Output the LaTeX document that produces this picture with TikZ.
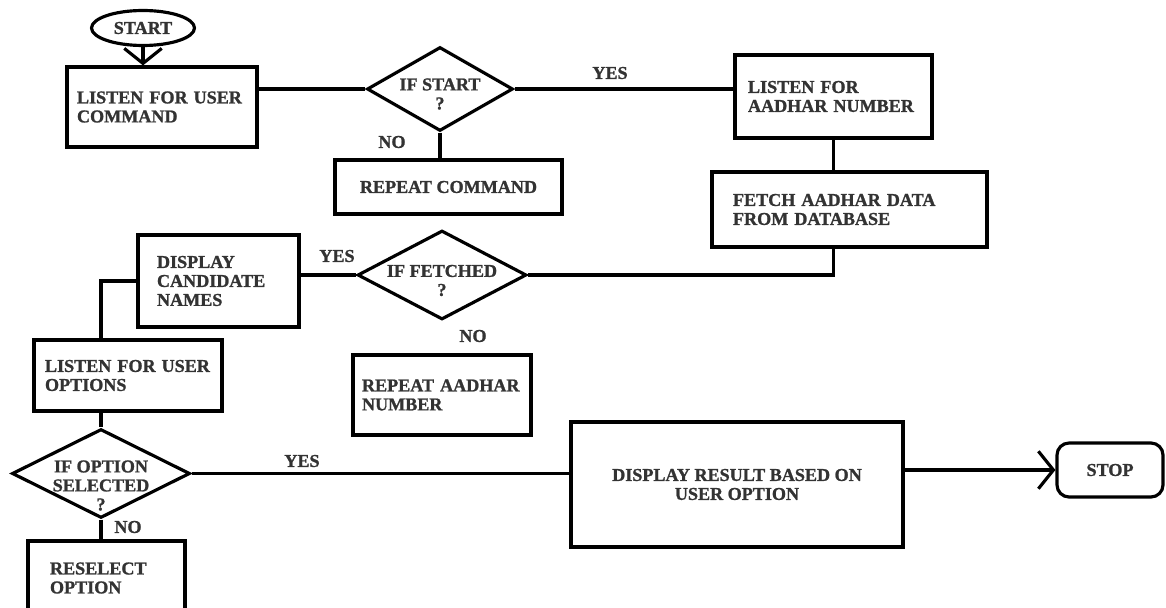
\documentclass[tikz,border=0pt]{standalone}
\usepackage{fontspec}
\setmainfont{Liberation Serif}[BoldFeatures={FakeBold=1.2}]
\usetikzlibrary{shapes.geometric, arrows.meta, positioning, calc}

\begin{document}
\begin{tikzpicture}[
  x=0.02cm, y=-0.02cm,
  every node/.style={font=\fontsize{10.3}{10.8}\selectfont\bfseries, text=black!80},
  box/.style={draw, line width=1.8pt, inner sep=0pt, align=left},
  cbox/.style={draw, line width=1.8pt, inner sep=0pt, align=center},
  decision/.style={diamond, draw, line width=1.8pt, inner sep=0pt},
  dtext/.style={align=center, inner sep=0pt},
  link/.style={line width=1.8pt},
  flow/.style={line width=1.8pt, -{Straight Barb[length=3mm, width=7.5mm]}}
]
  \useasboundingbox (0,0) rectangle (1166,608);

  \node[ellipse, draw, line width=1.8pt, minimum width=20.6mm, minimum height=7mm, inner sep=0pt] (start) at (143,28) {START};
  \node[box, minimum width=38mm, minimum height=16mm, text width=34mm] (cmd) at (162,107) {LISTEN FOR USER\\COMMAND};
  \node[decision, minimum width=29.2mm, minimum height=16.8mm,
        label={[dtext, yshift=-1mm]center:IF START\\?}] (ifstart) at (440,89) {};
  \node[cbox, minimum width=45.4mm, minimum height=10.8mm] (rptcmd) at (448.5,187) {REPEAT COMMAND};
  \node[box, minimum width=39.4mm, minimum height=16.6mm, text width=34.2mm] (aadhar) at (833.5,96.5) {LISTEN FOR\\AADHAR NUMBER};
  \node[box, minimum width=55mm, minimum height=15mm, text width=46.6mm] (fetch) at (849.5,209.5) {FETCH AADHAR DATA\\FROM DATABASE};
  \node[decision, minimum width=33.8mm, minimum height=17.8mm,
        label={[dtext, yshift=-1.1mm]center:IF FETCHED\\?}] (iffetch) at (442,275) {};
  \node[box, minimum width=32.2mm, minimum height=18.4mm, text width=24.6mm] (cand) at (218.5,281) {DISPLAY\\CANDIDATE\\NAMES};
  \node[box, minimum width=35.6mm, minimum height=16mm, text width=32mm] (rptaadhar) at (442,395) {REPEAT AADHAR\\NUMBER};
  \node[box, minimum width=37.6mm, minimum height=14.2mm, text width=33.2mm] (opts) at (128,375.5) {LISTEN FOR USER\\OPTIONS};
  \node[decision, minimum width=35.6mm, minimum height=17.8mm,
        label={[dtext, yshift=-2.4mm]center:IF OPTION\\SELECTED\\?}] (ifopt) at (101,473.5) {};
  \node[box, minimum width=31.4mm, minimum height=14.8mm, text width=22.6mm] (reselect) at (106.5,578) {RESELECT\\OPTION};
  \node[cbox, minimum width=66.4mm, minimum height=25mm] (result) at (737,484.5) {DISPLAY RESULT BASED ON\\USER OPTION};
  \node[draw, line width=1.8pt, rounded corners=2.4mm, minimum width=21.2mm, minimum height=10.8mm, inner sep=0pt] (stop) at (1110,470) {STOP};

  % branch labels
  \node (yes1) at (610,73) {YES};
  \node (no1) at (392,142) {NO};
  \node (yes2) at (337,256) {YES};
  \node (no2) at (473,336) {NO};
  \node (yes3) at (302,461) {YES};
  \node (no3) at (128,527) {NO};

  \draw[flow] (start.south) -- (start.south |- cmd.north);
  \draw[link] (ifstart.west) -- (ifstart.west -| cmd.east);
  \draw[link] (ifstart.east) -- (ifstart.east -| aadhar.west);
  \draw[link] (ifstart.south) -- (ifstart.south |- rptcmd.north);
  \draw[link] (aadhar.south) -- (aadhar.south |- fetch.north);
  \draw[link] (fetch.south -| aadhar.south) |- (iffetch.east);
  \draw[link] (iffetch.west) -- (iffetch.west -| cand.east);
  \draw[link] (cand.west) -| (opts.north -| ifopt.north);
  \draw[link] (opts.south -| ifopt.north) -- (ifopt.north);
  \draw[link] (ifopt.east) -- (ifopt.east -| result.west);
  \draw[link] (ifopt.south) -- (ifopt.south |- reselect.north);
  \draw[flow] (stop.west -| result.east) -- (stop.west);
\end{tikzpicture}
\end{document}
